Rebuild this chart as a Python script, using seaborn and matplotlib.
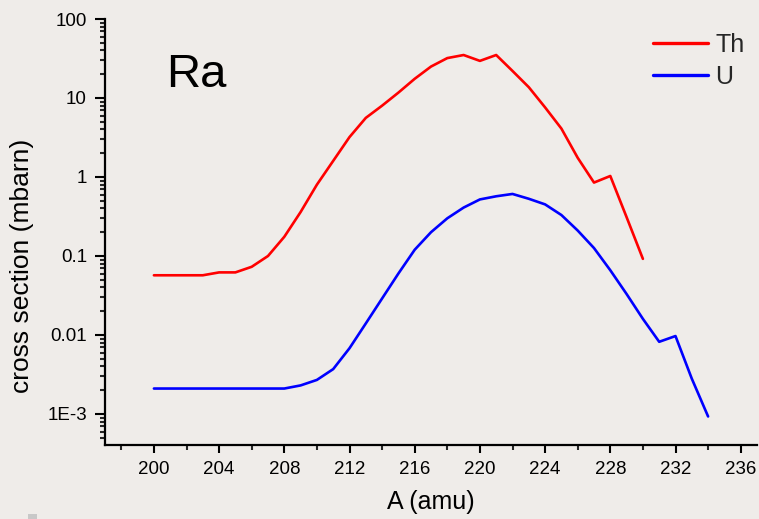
import numpy as np
import pandas as pd
import matplotlib
matplotlib.use("Agg")
import matplotlib.pyplot as plt
import seaborn as sns
from matplotlib.ticker import FixedLocator, FixedFormatter, MultipleLocator
from matplotlib.patches import Rectangle

# ---- data ----
a_th = list(range(200, 231))
th_vals = [0.057, 0.057, 0.057, 0.057, 0.062, 0.062, 0.073, 0.10, 0.175, 0.36,
           0.80, 1.6, 3.2, 5.6, 8.0, 11.7, 17.5, 25, 32, 35,
           29.5, 35, 22, 13.7, 7.6, 4.1, 1.75, 0.85, 1.03, 0.31, 0.092]
a_u = list(range(200, 235))
u_vals = [0.0021, 0.0021, 0.0021, 0.0021, 0.0021, 0.0021, 0.0021, 0.0021, 0.0021, 0.0023,
          0.0027, 0.0037, 0.0068, 0.014, 0.029, 0.06, 0.12, 0.20, 0.30, 0.41,
          0.52, 0.57, 0.61, 0.53, 0.45, 0.33, 0.21, 0.126, 0.066, 0.033,
          0.016, 0.0082, 0.0097, 0.0028, 0.00093]
series_names = ["Th", "U"]
x_ticks = [200, 204, 208, 212, 216, 220, 224, 228, 232, 236]
y_ticks = [1e-3, 1e-2, 1e-1, 1, 10, 100]
y_tick_labels = ["1E-3", "0.01", "0.1", "1", "10", "100"]

df = pd.concat([
    pd.DataFrame({"A": a_th, "cs": th_vals, "series": series_names[0]}),
    pd.DataFrame({"A": a_u, "cs": u_vals, "series": series_names[1]}),
], ignore_index=True)

bg = "#EFECE9"
sns.set_theme(style="ticks")
plt.rcParams["font.family"] = ["Liberation Sans", "DejaVu Sans"]

fig = plt.figure(figsize=(7.59, 5.19), dpi=100, facecolor=bg)
ax = fig.add_axes([105/759, 1-445/519, (757-105)/759, (445-19)/519])
ax.set_facecolor(bg)

sns.lineplot(data=df, x="A", y="cs", hue="series",
             palette={"Th": "#FF0000", "U": "#0000FF"},
             linewidth=1.9, ax=ax, sort=False, estimator=None)

ax.set_yscale("log")
ax.set_xlim(197, 237)
ax.set_ylim(4.05e-4, 100)

ax.xaxis.set_major_locator(FixedLocator(x_ticks))
ax.xaxis.set_minor_locator(MultipleLocator(2))
ax.yaxis.set_major_locator(FixedLocator(y_ticks))
ax.yaxis.set_major_formatter(FixedFormatter(y_tick_labels))
minors = [m * 10.0**e for e in range(-4, 2) for m in range(2, 10)]
ax.yaxis.set_minor_locator(FixedLocator(minors))
ax.yaxis.set_minor_formatter(FixedFormatter([""] * len(minors)))

for s in ["top", "right"]:
    ax.spines[s].set_visible(False)
for s in ["left", "bottom"]:
    ax.spines[s].set_linewidth(1.6)
    ax.spines[s].set_color("black")

ax.tick_params(axis="x", which="major", direction="out", length=5.5, width=1.5,
               labelsize=13.5, pad=6, colors="black")
ax.tick_params(axis="x", which="minor", direction="out", length=3.3, width=1.5)
ax.tick_params(axis="y", which="major", direction="out", length=7, width=1.5,
               labelsize=13.5, pad=6, colors="black")
ax.tick_params(axis="y", which="minor", direction="out", length=3.8, width=1.5)

ax.set_xlabel("A (amu)", fontsize=18, labelpad=9, color="black")
ax.set_ylabel("cross section (mbarn)", fontsize=19, color="black")
ax.yaxis.set_label_coords((34-105)/652, (445-266)/426)

leg = ax.legend(loc="upper left", bbox_to_anchor=(653/759, 1-33/519),
                bbox_transform=fig.transFigure, frameon=False, fontsize=18,
                handlelength=2.2, handletextpad=0.3, labelspacing=0.3,
                borderpad=0, borderaxespad=0, title=None)
for line in leg.get_lines():
    line.set_linewidth(2.4)

fig.text(166/759, 1-87/519, "Ra", fontsize=34, va="baseline", ha="left", color="black")

fig.patches.append(Rectangle((28/759, 0), 9/759, 5/519, transform=fig.transFigure,
                             facecolor="#C8C8C8", edgecolor="none"))

fig.savefig("out.png", dpi=100, facecolor=bg)
